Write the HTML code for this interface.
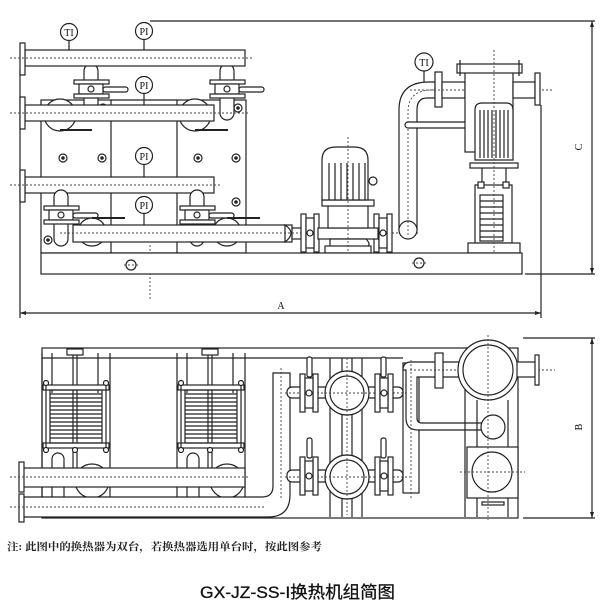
<!DOCTYPE html>
<html><head><meta charset="utf-8"><style>
html,body{margin:0;padding:0;background:#fff;}
svg{display:block;}
.l{fill:none;stroke:#222;stroke-width:1.2;}
.w{fill:#fff;stroke:#222;stroke-width:1.2;}
.d{fill:none;stroke:#444;stroke-width:0.9;stroke-dasharray:2,2;}
.t{font-family:"Liberation Serif",serif;font-size:10px;fill:#111;}
</style></head><body>
<svg width="600" height="603" viewBox="0 0 600 603" xmlns="http://www.w3.org/2000/svg">
<defs>
<g id="valve">
<rect class="w" x="-7" y="-16" width="14" height="56" rx="7"/>
<rect class="w" x="-17" y="0" width="35" height="4"/>
<rect class="w" x="-12" y="4" width="24" height="10"/>
<rect class="w" x="-17" y="14" width="35" height="4"/>
<rect class="w" x="12" y="7" width="25" height="5" rx="2.5"/>
<circle class="w" cx="0" cy="9" r="3"/>
</g>
<g id="bolt"><circle class="w" cx="0" cy="0" r="4"/><circle cx="0" cy="0" r="1.8" fill="#222"/></g>
<g id="pv">
<rect class="w" x="-9" y="0" width="5" height="38"/>
<rect class="w" x="4" y="0" width="5" height="38"/>
<rect class="w" x="-4" y="4" width="8" height="30"/>
<circle class="w" cx="0" cy="19" r="3"/>
</g>
<g id="hx">
<line class="l" x1="0" y1="0" x2="0" y2="150"/><line class="l" x1="68" y1="0" x2="68" y2="150"/>
<line class="l" x1="10" y1="0" x2="10" y2="40"/><line class="l" x1="56" y1="0" x2="56" y2="40"/>
<rect class="w" x="25" y="-4" width="16" height="6"/>
<line class="l" x1="31" y1="2" x2="31" y2="125"/><line class="l" x1="35" y1="2" x2="35" y2="125"/>
<rect class="w" x="1" y="32" width="66" height="5"/>
<rect class="w" x="1" y="90" width="66" height="5"/>
<rect class="l" x="8" y="37" width="52" height="53"/>
<path class="l" d="M8 41h52M8 45h52M8 49h52M8 53h52M8 57h52M8 61h52M8 65h52M8 69h52M8 73h52M8 77h52M8 81h52M8 85h52"/>
<line class="l" x1="4" y1="32" x2="4" y2="95"/><line class="l" x1="64" y1="32" x2="64" y2="95"/>
<circle class="w" cx="4" cy="30" r="2.5"/><circle class="w" cx="64" cy="30" r="2.5"/>
<circle class="w" cx="4" cy="97" r="2.5"/><circle class="w" cx="33" cy="97" r="2.5"/><circle class="w" cx="64" cy="97" r="2.5"/>
<circle class="w" cx="50" cy="128" r="17"/>
<rect class="w" x="10" y="100" width="12" height="50" rx="6"/>
</g>
</defs>

<line class="l" x1="150" y1="21" x2="595" y2="21"/>
<line class="l" x1="525" y1="274" x2="595" y2="274"/>
<line class="l" x1="592" y1="21" x2="592" y2="274"/>
<path d="M592 21l-2 6h4z M592 274l-2 -6h4z" fill="#222"/>
<text class="t" x="0" y="0" transform="translate(582,147) rotate(-90)" text-anchor="middle">C</text>
<line class="l" x1="20" y1="70" x2="20" y2="318"/>
<line class="l" x1="541" y1="105" x2="541" y2="318"/>
<line class="l" x1="20" y1="313" x2="541" y2="313"/>
<path d="M20 313l6 -2v4z M541 313l-6 -2v4z" fill="#222"/>
<text class="t" x="281" y="309" text-anchor="middle">A</text>

<rect class="l" x="41" y="100" width="70" height="153"/>
<rect class="l" x="177" y="100" width="69" height="153"/>
<line class="l" x1="111" y1="100" x2="177" y2="100"/>
<line class="l" x1="111" y1="253" x2="177" y2="253"/>
<line class="d" x1="150" y1="245" x2="150" y2="300"/>
<use href="#bolt" x="63" y="158"/><use href="#bolt" x="102" y="158"/>
<use href="#bolt" x="198" y="158"/><use href="#bolt" x="236" y="158"/>
<use href="#bolt" x="103" y="108"/><use href="#bolt" x="238" y="108"/>
<use href="#bolt" x="236" y="202"/><use href="#bolt" x="48" y="240"/>

<circle class="w" cx="60" cy="115" r="16"/><circle class="w" cx="195" cy="115" r="16"/>
<line x1="60" y1="130" x2="92" y2="130" stroke="#222" stroke-width="2"/>
<line x1="195" y1="130" x2="228" y2="130" stroke="#222" stroke-width="2"/>

<use href="#valve" x="91" y="80"/>
<use href="#valve" x="227" y="80"/>

<rect class="w" x="25" y="50" width="220" height="16"/>
<rect class="w" x="20" y="43" width="5" height="32"/>
<line class="d" x1="10" y1="58" x2="252" y2="58"/>
<line class="l" x1="69" y1="40" x2="69" y2="50"/><circle class="w" cx="69" cy="32" r="8.5"/>
<text class="t" x="69" y="36" text-anchor="middle" font-size="10">TI</text>
<line class="l" x1="144" y1="40" x2="144" y2="50"/><circle class="w" cx="144" cy="31" r="8.5"/>
<text class="t" x="144" y="35" text-anchor="middle" font-size="10">PI</text>

<rect class="w" x="25" y="105" width="189" height="16"/>
<rect class="w" x="20" y="97" width="5" height="32"/>
<line class="d" x1="10" y1="113" x2="250" y2="113"/>
<line class="l" x1="144" y1="94" x2="144" y2="105"/><circle class="w" cx="144" cy="85" r="8.5"/>
<text class="t" x="144" y="89" text-anchor="middle" font-size="10">PI</text>
<line class="l" x1="144" y1="165" x2="144" y2="177"/><circle class="w" cx="144" cy="156" r="8.5"/>
<text class="t" x="144" y="160" text-anchor="middle" font-size="10">PI</text>

<rect class="w" x="25" y="177" width="189" height="16"/>
<rect class="w" x="20" y="170" width="5" height="32"/>
<line class="d" x1="10" y1="185" x2="220" y2="185"/>

<use href="#valve" x="61" y="206"/>
<use href="#valve" x="197" y="206"/>
<line class="l" x1="144" y1="214" x2="144" y2="225"/><circle class="w" cx="144" cy="205" r="8.5"/>
<text class="t" x="144" y="209" text-anchor="middle" font-size="10">PI</text>
<circle class="w" cx="92" cy="232" r="14"/><circle class="w" cx="227" cy="232" r="14"/>
<line x1="92" y1="218" x2="125" y2="218" stroke="#222" stroke-width="2"/>
<line x1="227" y1="218" x2="260" y2="218" stroke="#222" stroke-width="2"/>

<rect class="w" x="73" y="225" width="219" height="17"/>
<path class="w" d="M285 225 q12 8 0 17z"/>
<rect class="w" x="292" y="228" width="12" height="11"/>
<line class="d" x1="60" y1="233" x2="420" y2="233"/>

<use href="#pv" x="310" y="214"/>
<use href="#pv" x="383" y="214"/>
<rect class="w" x="318" y="228" width="60" height="11"/>
<path class="w" d="M330 239 h36 q6 6 0 8 h-36z"/>
<rect class="w" x="325" y="246" width="46" height="7"/>
<rect class="w" x="328" y="203" width="40" height="25"/>
<rect class="w" x="322" y="200" width="52" height="6"/>
<path class="w" d="M322 200 V160 q0 -13 14 -13 h18 q14 0 14 13 V200z"/>
<path class="l" d="M329 163v37M335 163v37M341 163v37M347 163v37M353 163v37M359 163v37M365 163v37"/>
<circle class="w" cx="373" cy="181" r="4"/>
<line class="d" x1="348" y1="137" x2="348" y2="265"/>

<path class="w" d="M399 230 V110 q0 -28 30 -28 h6 v16 h-8 q-10 0 -10 12 V230z"/>
<circle class="w" cx="408" cy="230" r="9"/>
<path class="d" d="M408 235 V112 q0 -22 24 -22 h10"/>
<line class="l" x1="424" y1="71" x2="424" y2="82"/><circle class="w" cx="424" cy="62" r="9"/>
<text class="t" x="424" y="66" text-anchor="middle" font-size="10">TI</text>
<rect class="w" x="435" y="72" width="7" height="35"/>
<rect class="w" x="442" y="82" width="23" height="16"/>
<line class="d" x1="410" y1="90" x2="552" y2="90"/>
<rect class="w" x="405" y="122" width="70" height="6" rx="3"/>

<rect class="w" x="465" y="67" width="48" height="85"/>
<rect class="w" x="457" y="64" width="65" height="9"/>
<line class="l" x1="460" y1="60" x2="460" y2="76"/><line class="l" x1="519" y1="60" x2="519" y2="76"/>
<rect class="w" x="513" y="82" width="22" height="16"/>
<rect class="w" x="535" y="73" width="5" height="32"/>

<path class="w" d="M475 160 V110 q0 -7 7 -7 h24 q7 0 7 7 V160z"/>
<path class="l" d="M480 110v48M484 110v48M488 110v48M492 110v48M496 110v48M500 110v48M504 110v48M508 110v48"/>
<rect class="w" x="470" y="163" width="48" height="5"/>
<line class="l" x1="482" y1="168" x2="482" y2="182"/><line class="l" x1="506" y1="168" x2="506" y2="182"/>
<rect class="w" x="475" y="185" width="37" height="58"/>
<rect class="w" x="478" y="182" width="6" height="6"/><rect class="w" x="503" y="182" width="6" height="6"/>
<rect class="l" x="480" y="195" width="23" height="46"/>
<path class="l" d="M480 201h23M480 207h23M480 213h23M480 219h23M480 225h23M480 231h23M480 237h23"/>
<rect class="w" x="468" y="243" width="52" height="10"/>
<line class="d" x1="494" y1="50" x2="494" y2="262"/>

<rect class="w" x="41" y="253" width="481" height="21"/>
<circle class="w" cx="131" cy="265" r="5"/><line class="d" x1="124" y1="265" x2="138" y2="265"/>
<circle class="w" cx="419" cy="263" r="5"/><line class="d" x1="412" y1="263" x2="426" y2="263"/>

<line class="l" x1="523" y1="338" x2="595" y2="338"/>
<line class="l" x1="523" y1="518" x2="595" y2="518"/>
<line class="l" x1="592" y1="338" x2="592" y2="518"/>
<path d="M592 338l-2 6h4z M592 518l-2 -6h4z" fill="#222"/>
<text class="t" x="0" y="0" transform="translate(582,427) rotate(-90)" text-anchor="middle">B</text>

<rect class="l" x="42" y="348" width="476" height="170"/>
<line class="l" x1="42" y1="358" x2="403" y2="358"/>
<use href="#hx" x="42" y="353"/>
<use href="#hx" x="177" y="353"/>

<rect class="w" x="23" y="468" width="222" height="19"/>
<rect class="w" x="19" y="462" width="5" height="30"/>
<line class="d" x1="10" y1="477" x2="250" y2="477"/>
<path class="w" d="M23 497 H262 q11 0 11 -11 V373 h17 V495 q0 22 -22 22 H23z"/>
<rect class="w" x="19" y="494" width="5" height="28"/>
<line class="d" x1="10" y1="507" x2="265" y2="507"/>
<line class="d" x1="281" y1="368" x2="281" y2="500"/>

<path class="l" d="M330 358V517M342 358V517M352 358V517M362 358V517"/>
<rect class="w" x="287" y="387" width="116" height="11" rx="5"/>
<rect class="w" x="287" y="470" width="116" height="12" rx="5"/>
<circle class="w" cx="347" cy="393" r="22"/><circle class="w" cx="347" cy="393" r="17"/>
<circle class="w" cx="347" cy="477" r="22"/><circle class="w" cx="347" cy="477" r="17"/>
<line class="d" x1="347" y1="358" x2="347" y2="515"/>
<line class="d" x1="285" y1="393" x2="410" y2="393"/><line class="d" x1="285" y1="477" x2="410" y2="477"/>
<rect class="w" x="307" y="357" width="5" height="20" rx="2"/><use href="#pv" x="309" y="374"/>
<rect class="w" x="381" y="357" width="5" height="20" rx="2"/><use href="#pv" x="384" y="374"/>
<rect class="w" x="307" y="438" width="5" height="20" rx="2"/><use href="#pv" x="309" y="457"/>
<rect class="w" x="381" y="438" width="5" height="20" rx="2"/><use href="#pv" x="384" y="457"/>

<rect class="l" x="403" y="363" width="16" height="130"/>
<path class="w" d="M403 370 q0 -8 8 -8 H462 v15 H417 V418 q0 5 5 5 H493 v7 H418 q-12 0 -12 -12 V370z"/>
<rect class="w" x="435" y="353" width="8" height="35"/>
<line class="d" x1="410" y1="370" x2="555" y2="370"/>
<line class="d" x1="411" y1="360" x2="411" y2="500"/>
<line class="l" x1="465" y1="385" x2="465" y2="517"/><line class="l" x1="477" y1="400" x2="477" y2="517"/><line class="l" x1="508" y1="400" x2="508" y2="517"/>
<circle class="w" cx="488" cy="370" r="30"/><circle class="w" cx="488" cy="370" r="25"/>
<rect class="w" x="517" y="362" width="19" height="15"/>
<rect class="w" x="535" y="355" width="4" height="30"/>
<circle class="w" cx="493" cy="427" r="12"/>
<rect class="w" x="467" y="447" width="51" height="51"/>
<circle class="w" cx="492" cy="472" r="20"/>
<rect class="w" x="482" y="502" width="22" height="3"/>
<line class="d" x1="488" y1="335" x2="488" y2="520"/>
<line class="d" x1="460" y1="472" x2="525" y2="472"/>

<text x="7" y="550" font-family="'Liberation Serif','Noto Serif CJK SC',serif" font-size="10.5" font-weight="bold" fill="#222" textLength="315" lengthAdjust="spacingAndGlyphs">注:  此图中的换热器为双台，若换热器选用单台时，按此图参考</text>
<text x="200" y="598" font-family="'Liberation Sans','Noto Sans CJK SC',sans-serif" font-size="17" fill="#111" stroke="#111" stroke-width="0.3" textLength="195" lengthAdjust="spacingAndGlyphs">GX-JZ-SS-I换热机组简图</text>
</svg>
</body></html>
